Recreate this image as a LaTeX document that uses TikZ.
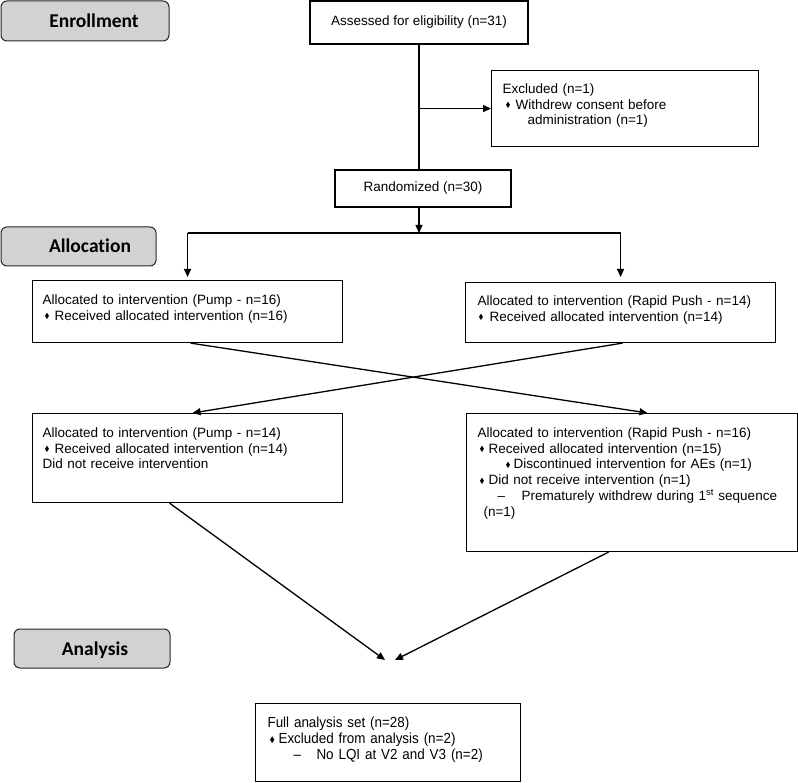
\documentclass[tikz,border=0pt]{standalone}
\usepackage{fontspec}
\usepackage{amssymb}
\usepackage{graphicx}
\setmainfont{Liberation Sans}
\newfontfamily\headfont{Carlito}[Ligatures=NoCommon]
\newfontfamily\narrowfont{Liberation Sans}[FakeStretch=0.92]
\usetikzlibrary{arrows.meta,calc}
\newcommand{\dmd}{\raisebox{0.2ex}{\scalebox{0.55}{$\blacklozenge$}}}
\newcommand{\blt}[2]{\makebox[#2pt][l]{\hspace*{#1pt}\dmd}}
\newcommand{\dsh}[2]{\makebox[#2pt][l]{\hspace*{#1pt}–}}
\tikzset{
  headbox/.style={draw=black!85, fill=gray!35, rounded corners=6pt, line width=1pt, inner sep=0pt},
  headtext/.style={font=\headfont\bfseries\fontsize{19.5}{20}\selectfont, inner sep=0pt, anchor=base},
  tbox/.style={draw, line width=1.1pt, anchor=north west, align=left, inner ysep=0pt,
    font=\fontsize{13.5}{15.7}\selectfont},
  cbox/.style={draw, line width=1.1pt, align=center, inner sep=0pt,
    font=\fontsize{13.5}{15.7}\selectfont},
  ln/.style={line width=1.3pt},
  arr/.style={ln, -{Triangle[length=8pt,width=7pt]}}
}
\begin{document}
\begin{tikzpicture}[x=1pt,y=-1pt]
\useasboundingbox (0,0) rectangle (798,783);

% headings
\node[headbox, minimum width=168pt, minimum height=40pt] (enr) at (85,21) {};
\node[headtext] (enrt) at (94,27.5) {Enrollment};
\node[headbox, minimum width=155pt, minimum height=39pt] (alc) at (78.5,246.5) {};
\node[headtext] (alct) at (90,253) {Allocation};
\node[headbox, minimum width=156pt, minimum height=39pt] (ana) at (92,648.5) {};
\node[headtext] (anat) at (95,655) {Analysis};

% boxes
\node[cbox, minimum width=218pt, minimum height=43pt] (ass) at (419,22.5) {Assessed for eligibility (n=31)};
\node[tbox, text width=245pt, inner xsep=11pt, text height=23pt, text depth=53pt] (exc) at (491,70)
  {Excluded (n=1)\\ \blt{3}{13}Withdrew consent before\\ \hspace*{25pt}administration (n=1)};
\node[cbox, minimum width=176pt, minimum height=37pt] (rnd) at (423,188.5) {Randomized (n=30)};

\node[tbox, text width=290pt, inner xsep=10pt, text height=24pt, text depth=38pt] (p1) at (32,280)
  {Allocated to intervention (Pump - n=16)\\ \blt{2}{12}Received allocated intervention (n=16)};
\node[tbox, text width=286pt, inner xsep=12pt, text height=23pt, text depth=37pt] (r1) at (465,282)
  {Allocated to intervention (Rapid Push - n=14)\\ \blt{1}{12}Received allocated intervention (n=14)};

\node[tbox, text width=290pt, inner xsep=10pt, text height=24pt, text depth=65pt] (p2) at (32,413)
  {Allocated to intervention (Pump - n=14)\\ \blt{2}{12}Received allocated intervention (n=14)\\ Did not receive intervention};
\node[tbox, text width=309pt, inner xsep=11pt, text height=24pt, text depth=114pt] (r2) at (466,413)
  {Allocated to intervention (Rapid Push - n=16)\\
   \blt{2}{11}Received allocated intervention (n=15)\\
   \hspace*{26pt}\blt{2}{10}Discontinued intervention for AEs (n=1)\\
   \blt{2}{11}Did not receive intervention (n=1)\\
   \mbox{\dsh{20}{44}Prematurely withdrew during 1\textsuperscript{st} sequence}\\
   \hspace*{6pt}(n=1)};

\node[tbox, text width=241pt, inner xsep=12pt, text height=24pt, text depth=54pt,
      font=\narrowfont\fontsize{14.6}{16}\selectfont] (fa) at (255,703)
  {Full analysis set (n=28)\\ \blt{2}{11}Excluded from analysis (n=2)\\ \dsh{26}{49}No LQI at V2 and V3 (n=2)};

% connectors
\draw[ln] (ass.south) -- (ass.south |- rnd.north);
\draw[arr] (ass.south |- exc.west) -- (exc.west);
\coordinate (split) at (419,233);
\draw[arr] (rnd.south -| ass.south) -- (split);
\draw[ln] (split -| p1.north) -- (split -| r1.north);
\draw[arr, shorten >=3pt] (split -| p1.north) -- (p1.north);
\draw[arr, shorten >=5pt] (split -| r1.north) -- (r1.north);

\draw[arr] ([xshift=3pt]p1.south) -- ([xshift=15.5pt]r2.north);
\draw[arr] ([xshift=2pt]r1.south) -- ([xshift=5pt]p2.north);

\coordinate (tipL) at (385,660);
\coordinate (tipR) at (395,660);
\draw[arr] ([xshift=-18pt]p2.south) -- (tipL);
\draw[arr] ([xshift=-23.5pt]r2.south) -- (tipR);
\end{tikzpicture}
\end{document}
